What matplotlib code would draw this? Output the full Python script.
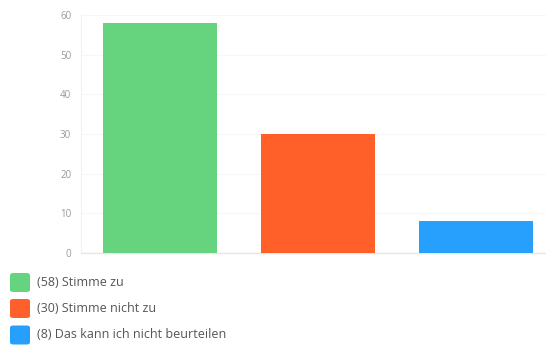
import matplotlib.pyplot as plt
from matplotlib.patches import FancyBboxPatch

categories = ["Stimme zu", "Stimme nicht zu", "Das kann ich nicht beurteilen"]
values = [58, 30, 8]
colors = ["#66d37e", "#ff5f29", "#26a0fc"]
yticks = [0, 10, 20, 30, 40, 50, 60]

plt.rcParams['font.family'] = ['Open Sans', 'DejaVu Sans']

W, H = 546, 346
fig = plt.figure(figsize=(W / 100, H / 100), dpi=100)
ax = fig.add_axes([81 / W, (H - 253) / H, (546 - 81) / W, (253 - 15) / H])

x = range(len(values))
ax.bar(x, values, width=0.72, color=colors, zorder=3)

ax.set_xlim(-0.5, 2.44)
ax.set_ylim(0, 60)
ax.set_yticks(yticks)
ax.set_xticks([])
ax.tick_params(axis='y', length=0, pad=7, labelsize=7, labelcolor="#999999")
ax.grid(axis='y', color="#f7f7f7", linewidth=0.8, zorder=0)
for s in ["top", "right"]:
    ax.spines[s].set_visible(False)
ax.spines["left"].set_color("#f2f2f2")
ax.spines["bottom"].set_color("#e6e6e6")
ax.spines["bottom"].set_linewidth(1.0)

# legend drawn below the plot
row_y = [282.5, 308.5, 335]
for i, (cat, v, c) in enumerate(zip(categories, values, colors)):
    yc = row_y[i]
    box = FancyBboxPatch((10 / W, (H - yc - 9.5) / H), 20 / W, 19 / H,
                         boxstyle="round,pad=0,rounding_size=0.006",
                         transform=fig.transFigure, facecolor=c, edgecolor="none")
    fig.patches.append(box)
    fig.text(37 / W, (H - yc) / H, f"({v}) {cat}", fontsize=9,
             color="#555555", va="center", ha="left")

fig.savefig("out.png", dpi=100)
